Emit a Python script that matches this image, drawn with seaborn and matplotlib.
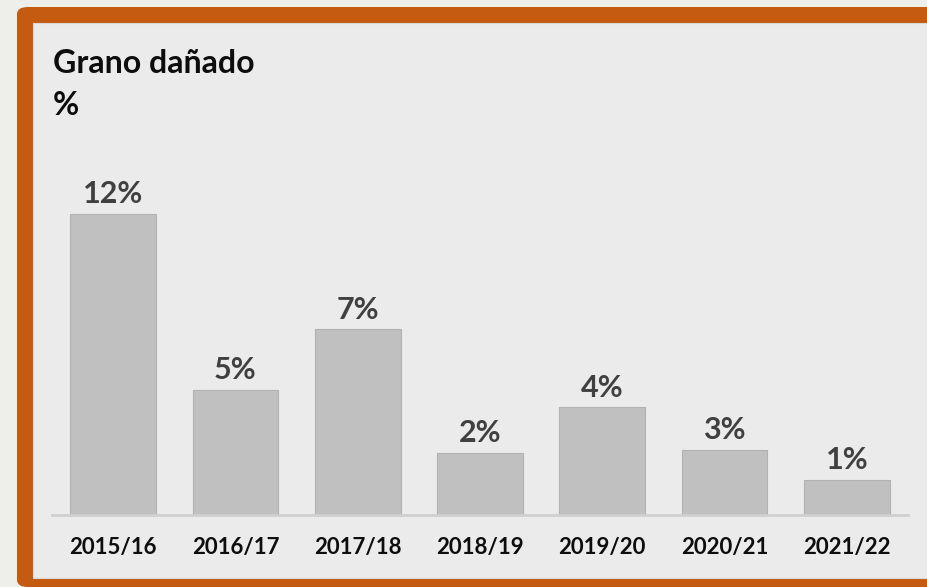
import seaborn as sns
import matplotlib.pyplot as plt
import pandas as pd
from matplotlib.patches import FancyBboxPatch, Rectangle

sns.set_style("white")
plt.rcParams['font.family'] = ['Lato', 'DejaVu Sans']

# data (bar heights vs. printed labels)
seasons = ["2015/16", "2016/17", "2017/18", "2018/19", "2019/20", "2020/21", "2021/22"]
damaged = [12.0, 5.0, 7.4, 2.48, 4.3, 2.6, 1.4]
labels = ["12%", "5%", "7%", "2%", "4%", "3%", "1%"]

df = pd.DataFrame({"season": seasons, "damaged": damaged})

W, H = 928, 587
fig = plt.figure(figsize=(W / 100, H / 100), dpi=100, facecolor="#EEEEEA")

# orange frame + inner panel, kept behind the axes
frame = FancyBboxPatch((17 / W, 0), 1.2, (H - 7) / H, boxstyle="round,pad=0,rounding_size=0.012",
                       transform=fig.transFigure, facecolor="#C55A11", edgecolor="none", zorder=-10)
fig.patches.append(frame)
panel = Rectangle((33 / W, (H - 578) / H), (927 - 33) / W, (578 - 23) / H,
                  transform=fig.transFigure, facecolor="#EBEBEB", edgecolor="#D8D8D8", lw=0.8, zorder=-9)
fig.patches.append(panel)

# axes placed in pixel terms
ax_left, ax_right, ax_bottom = 52, 908, 515
ymax = 14
px_per_unit = 25.1
ax_top = ax_bottom - ymax * px_per_unit
ax = fig.add_axes([ax_left / W, (H - ax_bottom) / H, (ax_right - ax_left) / W, (ax_bottom - ax_top) / H])
ax.set_facecolor("none")

sns.barplot(data=df, x="season", y="damaged", color="#C0C0C0", saturation=1,
            width=0.7, edgecolor="#B2B2B2", linewidth=0.8, ax=ax)
ax.set_ylim(0, ymax)
ax.set_xlim(-0.5, len(seasons) - 0.5)

ax.bar_label(ax.containers[0], labels=labels, padding=4, fontsize=22,
             fontweight="bold", color="#404040")

for s in ["top", "right", "left"]:
    ax.spines[s].set_visible(False)
ax.spines["bottom"].set_color("#D0D0D0")
ax.spines["bottom"].set_linewidth(2)
ax.set_yticks([])
ax.set_xlabel("")
ax.set_ylabel("")
ax.tick_params(axis="x", length=0, pad=16, labelsize=16, labelcolor="#0D0D0D")
for t in ax.get_xticklabels():
    t.set_fontweight("bold")

fig.text(53 / W, 1 - 73 / H, "Grano dañado", fontsize=23, fontweight="bold",
         color="#0D0D0D", va="baseline", ha="left")
fig.text(53 / W, 1 - 115 / H, "%", fontsize=23, fontweight="bold",
         color="#0D0D0D", va="baseline", ha="left")

fig.savefig("out.png", dpi=100, facecolor=fig.get_facecolor())
